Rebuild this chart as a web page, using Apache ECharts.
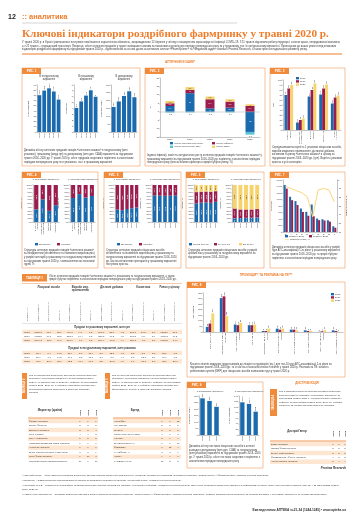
<!DOCTYPE html>
<html><head><meta charset="utf-8">
<script src="https://cdn.jsdelivr.net/npm/echarts@6/dist/echarts.min.js"></script>
<style>html,body{margin:0;padding:0;background:#fff;overflow:hidden}#main{width:360px;height:530px}</style>
</head><body><div id="main"></div>
<script>
// ================= DATA =================
const years5 = ['2016', '2017', '2018', '2019', '2020'];
const years3 = ['2018', '2019', '2020'];

// Fig 1
const fig1Packs = [70.5, 79.3, 83.7, 77.6, 62.1];
const fig1Uah = [4.1, 5.2, 6.2, 7.1, 6.0];
const fig1Usd = [160, 195, 230, 260, 222];

// Fig 2
const fig2Natural = [3.4, 11.0, 2.0, 2.4, -12.0];
const fig2Inflation = [1.6, 2.0, 5.4, 3.6, 3.4];
const fig2Replacement = [1.4, 1.6, 1.6, 1.4, 1.0];
const fig2Structure = [-0.5, -0.4, -0.3, -0.4, -1.6];

// Fig 3
const fig3Cats = ['Лікарські\nзасоби', 'Вироби мед.\nпризначення', 'Дієтичні\nдобавки', 'Косметика', 'Ринок\nу цілому'];
const fig3V2018 = [70, 15, 67, 71, 53];
const fig3V2019 = [83, 20, 80, 83, 65];
const fig3V2020 = [90, 23, 93, 91, 69];

// Fig 4
const fig4Cats = ['Лікарські\nзасоби', 'Вироби мед.\nпризначення', 'Дієтичні\nдобавки', 'Косметика'];
const fig4UahDomestic = [34.2, 61.3, 30.1, 45.4];
const fig4UahForeign = [65.8, 38.7, 69.9, 54.6];
const fig4PackDomestic = [64.8, 75.2, 66.1, 70.3];
const fig4PackForeign = [35.2, 24.8, 33.9, 29.7];

// Fig 5
const fig5UahDomestic = [33.5, 31.9, 35.2, 37.1, 39.4];
const fig5UahForeign = [66.5, 68.1, 64.8, 62.9, 60.6];
const fig5PackDomestic = [72.3, 71.1, 70.8, 71.0, 72.4];
const fig5PackForeign = [27.7, 28.9, 29.2, 29.0, 27.6];

// Fig 6
const fig6UahHigh = [50.3, 52.4, 53.1, 51.8, 54.6];
const fig6UahMid = [30.5, 29.6, 29.3, 30.1, 28.7];
const fig6UahLow = [19.2, 18.0, 17.6, 18.1, 16.7];
const fig6PackHigh = [10.1, 10.8, 11.3, 11.9, 12.6];
const fig6PackMid = [26.4, 23.1, 22.5, 21.9, 22.3];
const fig6PackLow = [63.5, 66.1, 66.2, 66.2, 65.1];

// Fig 7
const fig7Cats = ['N', 'A', 'C', 'R', 'M', 'J', 'G', 'D', 'B', 'L'];
const fig7V2019 = [1445, 1084, 950, 723, 620, 846, 413, 392, 361, 175];
const fig7V2020 = [1334, 979, 832, 617, 500, 486, 365, 354, 319, 131];
const fig7Change = [-7.7, -9.7, -12.4, -14.7, -19.4, -42.6, -11.6, -9.7, -11.6, -25.2];

// Fig 8
const fig8Cats = ['N02 Анальгетики', 'R05 Засоби від кашлю\nта застуди', 'M01 Протизапальні\nзасоби', 'A11 Вітаміни', 'C09 Засоби, що діють\nна РАС', 'J01 Антибактеріальні\nзасоби', 'A02 Антацидні засоби', 'R01 Назальні засоби', 'C10 Гіполіпідемічні\nзасоби', 'N06 Психоаналептики'];
const fig8V2018 = [46, 304, 67, 61, 9, 30, 21, 15, 2, 15];
const fig8V2019 = [76, 320, 61, 61, 9, 21, 21, 9, 6, 9];
const fig8V2020 = [167, 143, 82, 67, 30, 30, 15, 9, 15, 2];

// Fig 9
const fig9Usd = [282, 262, 217];
const fig9Packs = [117.3, 111.7, 83.8];

// Table 1
const t1Groups = ['Лікарські засоби', 'Вироби мед. призначення', 'Дієтичні добавки', 'Косметика', 'Ринок у цілому'];
const t1GroupCols = [3, 3, 3, 3, 2];
const t1SubCols = ['Обсяг продажів', 'Приріст/убуток, %', 'Частка, %'];
const t1Years = ['2018', '2019', '2020'];
const t1Uah = [
  [5305.2, 17.0, 85.6, 466.0, 9.1, 7.5, 268.7, 27.8, 4.3, 162.1, 24.3, 2.6, 6202.0, 17.1],
  [6053.5, 14.1, 85.5, 533.1, 14.4, 7.5, 320.5, 19.3, 4.5, 173.2, 6.8, 2.4, 7080.3, 14.2],
  [5104.2, -15.7, 84.7, 500.6, -6.1, 8.3, 264.4, -17.5, 4.4, 158.3, -8.6, 2.6, 6027.5, -14.9]
];
const t1Pack = [
  [62.4, -0.4, 74.5, 15.4, -5.7, 18.4, 3.6, 12.5, 4.3, 2.3, 2.1, 2.8, 83.7, -1.2],
  [57.6, -7.7, 74.2, 14.6, -5.2, 18.8, 3.4, -5.6, 4.4, 2.0, -13.0, 2.6, 77.6, -7.3],
  [45.7, -20.7, 73.6, 12.2, -16.4, 19.6, 2.5, -26.5, 4.0, 1.7, -15.0, 2.8, 62.1, -20.0]
];

// Table 2
const t2Names = ['Фармак (Україна)', 'Sanofi (Франція)', 'Дарниця (Україна)', 'Teva (Ізраїль)', 'KRKA (Словенія)', 'Київський вітамінний завод (Україна)', 'Артеріум (Україна)', 'Berlin-Chemie/Menarini (Німеччина)', 'Юрія-Фарм (Україна)', 'Reckitt Benckiser (Великобританія)'];
const t2Cols = ['2020', '2019', '2018'];
const t2Rank2020 = [1, 2, 3, 4, 5, 6, 7, 8, 9, 10];
const t2Rank2019 = [1, 3, 2, 4, 5, 6, 7, 8, 10, 9];
const t2Rank2018 = [1, 2, 4, 3, 5, 6, 7, 9, 8, 10];

// Table 3
const t3Names = ['НУРОФЕН', 'КСАРЕЛТО', 'ЛІНЕКС', 'ЦИТРАМОН-ДАРНИЦЯ', 'НО-ШПА', 'ЕНТЕРОЖЕРМІНА', 'ФЛЕБОДІА', 'КАНЕФРОН Н', 'НОТТА', 'КАРДІОМАГНІЛ'];
const t3Rank2020 = [1, 2, 3, 4, 5, 6, 7, 8, 9, 10];
const t3Rank2019 = [1, 5, 3, 6, 9, 7, 12, 8, 4, 2];
const t3Rank2018 = [12, 5, 2, 8, 9, 10, 4, 6, 7, 3];

// Table 4
const t4Names = ['БаДМ (Україна)', 'Оптіма-Фарм (Україна)', 'Вента. ЛТД (Україна)', 'Фармпланета / Фра-М (Україна)', 'Альба Україна (Україна)'];
const t4Rank2020 = [1, 2, 3, 4, 5];
const t4Rank2019 = [1, 2, 3, 5, 4];
const t4Rank2018 = [1, 2, 3, 5, 4];

// ================= STYLE =================
const K = 1;
const k = function (v) { return v * K; };
const FF = 'Arial, "Liberation Sans", Helvetica, sans-serif';
const C = {blue: '#1c6aae', maroon: '#9b1d4e', yellow: '#f6d36b', teal: '#5bc2d4', orange: '#ee7d2b', border: '#f2a870', stripe: '#fde6d2', txt: '#3a3a3a'};

const grid = [], xAxis = [], yAxis = [], series = [], graphic = [];
const mctx = document.createElement('canvas').getContext('2d');
function wrapText(text, font, maxW) {
  mctx.font = font;
  const out = [];
  text.split('\n').forEach(function (para) {
    const words = para.split(' ');
    let line = '';
    words.forEach(function (w) {
      const cand = line ? line + ' ' + w : w;
      if (line && mctx.measureText(cand).width > maxW) { out.push(line); line = w; }
      else line = cand;
    });
    out.push(line);
  });
  return out.join('\n');
}
function T(x, y, text, o = {}) {
  const fs = k(o.fs || 2.6);
  const fam = o.ff || FF;
  const font = (o.it ? 'italic ' : 'normal ') + (o.fw || 'normal') + ' ' + fs + 'px ' + fam;
  const t = o.w ? wrapText(text, font, k(o.w)) : text;
  const st = {text: t, font: font, fontSize: fs, fontFamily: fam, fontWeight: o.fw || 'normal', fontStyle: o.it ? 'italic' : 'normal',
    fill: o.c || C.txt, align: o.align || 'left', verticalAlign: o.va || 'top', lineHeight: k(o.lh || (o.fs || 2.6) * 1.2)};
  graphic.push({type: 'text', x: k(x), y: k(y), rotation: o.rot || 0, z: o.z || 10, silent: true, style: st});
}
function R(x, y, w, h, o = {}) {
  graphic.push({type: 'rect', shape: {x: k(x), y: k(y), width: k(w), height: k(h)}, z: o.z || 1, silent: true,
    style: {fill: o.fill || 'none', stroke: o.stroke || 'none', lineWidth: k(o.lw || 0.6)}});
}
function L(x1, y1, x2, y2, o = {}) {
  graphic.push({type: 'line', shape: {x1: k(x1), y1: k(y1), x2: k(x2), y2: k(y2)}, z: o.z || 2, silent: true,
    style: {stroke: o.c || '#999', lineWidth: k(o.lw || 0.5)}});
}
function figBox(x, y, w, h, label) {
  R(x, y, w, h, {stroke: C.border, lw: 0.7});
  R(x, y, 19, 6, {fill: '#f08b3c', z: 3});
  T(x + 9.5, y + 3.2, label, {fs: 3, c: '#fff', fw: 'bold', align: 'center', va: 'middle', z: 4});
}
function gLegend(items, x, y, o = {}) {
  let cx = x, cy = y;
  items.forEach(function (it, i) {
    if (it[2]) L(cx, cy + 1.2, cx + 4, cy + 1.2, {c: it[0], lw: 0.8, z: 5});
    else R(cx, cy, 3, 2.4, {fill: it[0], z: 5});
    T(cx + (it[2] ? 5 : 4), cy + 1.2, it[1], {fs: o.fs || 2.4, va: 'middle'});
    if (o.vertical) cy += o.step || 3.4;
    else if (o.cols && (i + 1) % o.cols === 0) { cx = x; cy += o.step || 3.6; }
    else cx += o.dx || 20;
  });
}
function yAx(gi, min, max, step, name, gap, pos, fmt) {
  return {gridIndex: gi, type: 'value', min: min, max: max, interval: step, position: pos, name: name, nameLocation: 'middle', nameRotate: 90, nameGap: k(gap || 8),
    nameTextStyle: {fontSize: k(2.5), color: '#333', fontFamily: FF},
    axisLine: {show: true, lineStyle: {color: '#8a8a8a', width: k(0.5)}},
    axisTick: {show: true, length: k(1), lineStyle: {color: '#8a8a8a', width: k(0.4)}},
    splitLine: {show: false},
    axisLabel: {fontSize: k(2.2), color: '#333', margin: k(1), fontFamily: FF, formatter: fmt}};
}
function addPlot(p) {
  const gi = grid.length;
  grid.push({left: k(p.x), top: k(p.y), width: k(p.w), height: k(p.h), containLabel: false});
  const fs = p.fs || 2.2;
  xAxis.push({gridIndex: gi, type: 'category', data: p.cats,
    axisLine: {onZero: false, lineStyle: {color: '#8a8a8a', width: k(0.5)}}, axisTick: {show: false},
    axisLabel: {interval: 0, rotate: p.rot === undefined ? 90 : p.rot, fontSize: k(fs), lineHeight: k(fs + 0.3), color: '#333', margin: k(1), fontFamily: FF}});
  const ax = {xi: xAxis.length - 1};
  yAxis.push(yAx(gi, p.ymin, p.ymax, p.step, p.yname, p.ngap, 'left', p.yfmt));
  ax.yi = yAxis.length - 1;
  if (p.y2) { yAxis.push(yAx(gi, p.y2.min, p.y2.max, p.y2.step, p.y2.name, p.y2.gap, 'right', p.y2.fmt)); ax.yi2 = yAxis.length - 1; }
  return ax;
}
const lblTop = {show: true, position: 'top', rotate: 90, align: 'left', verticalAlign: 'middle', distance: k(0.8), fontSize: k(2.1), color: '#333', fontFamily: FF};
const lblIn = {show: true, position: 'inside', rotate: 90, fontSize: k(2.1), color: '#fff', fontFamily: FF};
function addBar(name, data, ax, color, o = {}) {
  series.push({type: 'bar', name: name, data: data, xAxisIndex: ax.xi, yAxisIndex: o.right ? ax.yi2 : ax.yi,
    stack: o.stack ? o.stack + '_' + ax.xi : undefined,
    barGap: o.gap || '0%', barCategoryGap: o.cgap || '30%', itemStyle: {color: color}, label: o.label || lblTop, markLine: o.markLine});
}
const pct = function (v) { return v + '%'; };

// ================= PAGE HEADER =================
T(8, 12.5, '12', {fs: 7, fw: 'bold', c: '#222'});
T(22, 12.2, ':: аналитика', {fs: 7.5, fw: 'bold', c: C.orange});
L(22, 23, 237, 23, {c: '#aaa', lw: 0.5});
T(22, 27.5, 'Ключові індикатори роздрібного фармринку у травні 2020 р.', {fs: 11.2, fw: 'bold', ff: '"Liberation Serif", "DejaVu Serif", serif', c: C.orange});
T(22, 40, 'У травні 2020 р. в Україні розпочалося поступове пом\'якшення карантинних обмежень, запроваджених 12 березня у зв\'язку з поширенням коронавірусної інфекції COVID-19. З 11 травня відновили роботу перукарні, салони краси, непродовольчі магазини, а з 22 травня – громадський транспорт. Попри це, обсяг аптечних продажів у травні залишався нижчим за показники аналогічного періоду попереднього року як у грошовому, так і в натуральному вираженні. Пропонуємо до вашої уваги огляд ключових індикаторів роздрібного фармринку за підсумками травня 2020 р., підготовлений на основі даних аналітичних систем «PharmXplorer» та «Медичний аудит» компанії Proxima Research, а також прогноз подальшого розвитку ринку.', {fs: 2.7, w: 320, lh: 3.9});
L(22, 54, 342, 54, {c: C.orange, lw: 1});
T(180, 62, 'АПТЕЧНИЙ КОШИК*', {fs: 3, c: C.orange, fw: 'bold', align: 'center', va: 'middle'});

// ================= FIG 1 =================
figBox(22, 68, 118, 98, 'РИС. 1');
T(49, 75, 'В натуральному\nвираженні', {fs: 2.6, align: 'center', lh: 3});
T(86, 75, 'В грошовому\nвираженні', {fs: 2.6, align: 'center', lh: 3});
T(124, 75, 'В доларовому\nвираженні', {fs: 2.6, align: 'center', lh: 3});
let ax = addPlot({x: 37, y: 85, w: 24, h: 47, cats: years5, ymin: 0, ymax: 90, step: 10, yname: 'Млн упаковок', ngap: 7});
addBar('f1a', fig1Packs, ax, C.blue, {cgap: '22%'});
ax = addPlot({x: 74, y: 85, w: 24, h: 47, cats: years5, ymin: 0, ymax: 8, step: 1, yname: 'Млрд грн', ngap: 5});
addBar('f1b', fig1Uah, ax, C.blue, {cgap: '22%'});
ax = addPlot({x: 111, y: 85, w: 26, h: 47, cats: years5, ymin: 0, ymax: 300, step: 50, yname: 'Млн дол. США', ngap: 7});
addBar('f1c', fig1Usd, ax, C.blue, {cgap: '22%'});
T(24, 148.5, 'Динаміка обсягу аптечних продажів товарів «аптечного кошика» в натуральному (млн упаковок), грошовому (млрд грн) та доларовому (млн дол. США) вираженні за підсумками травня 2016–2020 рр. У травні 2020 р. обсяг продажів скоротився порівняно з аналогічним періодом попереднього року як в упаковках, так і в грошовому вираженні', {fs: 2.6, w: 114, lh: 3.8});

// ================= FIG 2 =================
figBox(145, 68, 120, 98, 'РИС. 2');
ax = addPlot({x: 160, y: 78, w: 100, h: 59, cats: years5, rot: 0, fs: 2.4, ymin: -15, ymax: 20, step: 5, yname: '%', ngap: 6});
const lbl2 = {show: true, position: 'inside', fontSize: k(2.1), color: '#fff', fontFamily: FF};
addBar('Індекс натурального росту', fig2Natural, ax, C.blue, {stack: 's2', cgap: '55%', label: lbl2,
  markLine: {silent: true, symbol: 'none', data: [{yAxis: 0}], lineStyle: {color: '#999', width: k(0.4), type: 'solid'}, label: {show: false}}});
addBar('Індекс інфляції', fig2Inflation, ax, C.maroon, {stack: 's2', cgap: '55%', label: lbl2});
addBar('Індекс замін', fig2Replacement, ax, C.yellow, {stack: 's2', cgap: '55%', label: Object.assign({}, lbl2, {color: '#333'})});
addBar('Індекс структурних змін', fig2Structure, ax, C.teal, {stack: 's2', cgap: '55%', label: {show: true, position: 'bottom', fontSize: k(2.1), color: '#333', distance: k(0.8)}});
gLegend([[C.blue, 'Індекс натурального росту'], [C.maroon, 'Індекс інфляції'], [C.teal, 'Індекс структурних змін'], [C.yellow, 'Індекс замін']], 170, 142, {cols: 2, dx: 42, step: 3.6});
T(147, 153.5, 'Індекси інфляції, замін та натурального росту аптечних продажів товарів «аптечного кошика» у грошовому вираженні за підсумками травня 2016–2020 рр. порівняно з аналогічним періодом попереднього року (внесок кожного фактора в приріст/убуток ринку, %)', {fs: 2.6, w: 116, lh: 3.7});

// ================= FIG 3 =================
figBox(270, 68, 75, 98, 'РИС. 3');
ax = addPlot({x: 283, y: 80, w: 58, h: 50, cats: fig3Cats, ymin: 0, ymax: 100, step: 10, yname: 'Грн', ngap: 6});
addBar('2018', fig3V2018, ax, C.blue, {cgap: '25%'});
addBar('2019', fig3V2019, ax, C.maroon, {cgap: '25%'});
addBar('2020', fig3V2020, ax, C.yellow, {cgap: '25%'});
gLegend([[C.blue, '2018'], [C.maroon, '2019'], [C.yellow, '2020']], 296, 77, {vertical: true, step: 3.2});
T(272, 145.5, 'Середньозважена вартість 1 упаковки лікарських засобів, виробів медичного призначення, дієтичних добавок, косметики та ринку «аптечного кошика» в цілому за підсумками травня 2018–2020 рр. (грн). Вартість упаковки зростає в усіх категоріях', {fs: 2.6, w: 71, lh: 3.7});

// ================= FIG 4 =================
figBox(22, 172, 76, 96, 'РИС. 4');
T(46, 177.5, 'У грошовому вираженні', {fs: 2.4, align: 'center'});
T(83, 177.5, 'У натуральному вираженні', {fs: 2.4, align: 'center'});
ax = addPlot({x: 33, y: 185, w: 26, h: 37, cats: fig4Cats, fs: 2, ymin: 0, ymax: 100, step: 10, yname: 'Частка, %', ngap: 6.5, yfmt: pct});
addBar('Вітчизняні', fig4UahDomestic, ax, C.blue, {stack: 'a', cgap: '35%', label: lblIn});
addBar('Іноземні', fig4UahForeign, ax, C.maroon, {stack: 'a', cgap: '35%', label: lblIn});
ax = addPlot({x: 70, y: 185, w: 25, h: 37, cats: fig4Cats, fs: 2, ymin: 0, ymax: 100, step: 10, yname: 'Частка, %', ngap: 6.5, yfmt: pct});
addBar('Вітчизняні', fig4PackDomestic, ax, C.blue, {stack: 'a', cgap: '35%', label: lblIn});
addBar('Іноземні', fig4PackForeign, ax, C.maroon, {stack: 'a', cgap: '35%', label: lblIn});
gLegend([[C.blue, 'Вітчизняні'], [C.maroon, 'Іноземні']], 35, 243, {dx: 22});
T(24, 248, 'Структура аптечних продажів товарів «аптечного кошика» за походженням (вітчизняного та іноземного виробництва) у розрізі категорій у грошовому та натуральному вираженні за підсумками травня 2020 р. з визначенням частки кожної групи, %', {fs: 2.6, w: 72, lh: 3.7});

// ================= FIG 5 =================
figBox(104, 172, 77, 96, 'РИС. 5');
T(127, 177.5, 'У грошовому вираженні', {fs: 2.4, align: 'center'});
T(165, 177.5, 'У натуральному вираженні', {fs: 2.4, align: 'center'});
ax = addPlot({x: 115, y: 185, w: 24, h: 37, cats: years5, ymin: 0, ymax: 100, step: 10, yname: 'Частка, %', ngap: 6.5, yfmt: pct});
addBar('Вітчизняні', fig5UahDomestic, ax, C.blue, {stack: 'a', cgap: '30%', label: lblIn});
addBar('Іноземні', fig5UahForeign, ax, C.maroon, {stack: 'a', cgap: '30%', label: lblIn});
ax = addPlot({x: 152, y: 185, w: 26, h: 37, cats: years5, ymin: 0, ymax: 100, step: 10, yname: 'Частка, %', ngap: 6.5, yfmt: pct});
addBar('Вітчизняні', fig5PackDomestic, ax, C.blue, {stack: 'a', cgap: '30%', label: lblIn});
addBar('Іноземні', fig5PackForeign, ax, C.maroon, {stack: 'a', cgap: '30%', label: lblIn});
gLegend([[C.blue, 'Вітчизняні'], [C.maroon, 'Іноземні']], 117, 243, {dx: 22});
T(106, 248, 'Структура аптечних продажів лікарських засобів вітчизняного та іноземного виробництва у грошовому та натуральному вираженні за підсумками травня 2016–2020 рр. Частка вітчизняних препаратів у грошовому вираженні поступово зростає', {fs: 2.6, w: 73, lh: 3.7});

// ================= FIG 6 =================
figBox(186, 172, 78, 96, 'РИС. 6');
T(206, 177.5, 'У грошовому вираженні', {fs: 2.4, align: 'center'});
T(246, 177.5, 'У натуральному вираженні', {fs: 2.4, align: 'center'});
ax = addPlot({x: 194, y: 185, w: 24, h: 37, cats: years5, ymin: 0, ymax: 100, step: 10, yname: 'Частка, %', ngap: 6.5, yfmt: pct});
addBar('Понад 100 грн', fig6UahHigh, ax, C.blue, {stack: 'a', cgap: '30%', label: lblIn});
addBar('50–100 грн', fig6UahMid, ax, C.maroon, {stack: 'a', cgap: '30%', label: lblIn});
addBar('До 50 грн', fig6UahLow, ax, C.yellow, {stack: 'a', cgap: '30%', label: Object.assign({}, lblIn, {color: '#333'})});
ax = addPlot({x: 232, y: 185, w: 28, h: 37, cats: years5, ymin: 0, ymax: 100, step: 10, yname: 'Частка, %', ngap: 6.5, yfmt: pct});
addBar('Понад 100 грн', fig6PackHigh, ax, C.blue, {stack: 'a', cgap: '30%', label: lblIn});
addBar('50–100 грн', fig6PackMid, ax, C.maroon, {stack: 'a', cgap: '30%', label: lblIn});
addBar('До 50 грн', fig6PackLow, ax, C.yellow, {stack: 'a', cgap: '30%', label: Object.assign({}, lblIn, {color: '#333'})});
gLegend([[C.blue, 'Понад 100 грн'], [C.maroon, '50–100 грн'], [C.yellow, 'До 50 грн']], 189, 243, {dx: 25});
T(188, 248, 'Структура аптечних продажів лікарських засобів у розрізі цінових ніш у грошовому та натуральному вираженні за підсумками травня 2016–2020 рр.', {fs: 2.6, w: 74, lh: 3.7});

// ================= FIG 7 =================
figBox(270, 172, 75, 96, 'РИС. 7');
ax = addPlot({x: 283, y: 180, w: 54, h: 52, cats: fig7Cats, rot: 0, fs: 2.3, ymin: 0, ymax: 1600, step: 200, yname: 'Млн грн', ngap: 7,
  y2: {min: -60, max: 0, step: 10, name: 'Приріст/убуток, %', gap: 6}});
addBar('Травень 2019', fig7V2019, ax, C.blue, {cgap: '25%', label: Object.assign({}, lblTop, {show: false})});
addBar('Травень 2020', fig7V2020, ax, C.maroon, {cgap: '25%', label: Object.assign({}, lblTop, {show: false})});
series.push({type: 'line', name: 'Приріст/убуток, %', data: fig7Change, xAxisIndex: ax.xi, yAxisIndex: ax.yi2, symbol: 'none',
  lineStyle: {color: '#f8d77a', width: k(1)}, itemStyle: {color: '#f8d77a'}, z: 5,
  label: {show: true, position: 'top', rotate: 90, align: 'left', verticalAlign: 'middle', distance: k(1), fontSize: k(2.1), color: '#333'}});
gLegend([[C.blue, 'Травень 2019'], [C.maroon, 'Травень 2020'], ['#f8d77a', 'Приріст/убуток, %', true]], 285, 235, {cols: 2, dx: 24, step: 3.5});
T(272, 245, 'Динаміка аптечних продажів лікарських засобів у розрізі груп АТС-класифікації 1-го рівня у грошовому вираженні за підсумками травня 2019–2020 рр. та приріст/убуток порівняно з аналогічним періодом попереднього року', {fs: 2.6, w: 71, lh: 3.7});

// ================= TABLE 1 =================
R(22, 274, 25, 7.5, {fill: '#f08b3c', z: 3});
T(34.5, 278, 'ТАБЛИЦЯ 1', {fs: 3, c: '#fff', fw: 'bold', align: 'center', va: 'middle', z: 4});
T(49, 274.3, 'Обсяг аптечних продажів товарів «аптечного кошика» в грошовому та натуральному вираженні, а також приріст/убуток порівняно з аналогічним періодом попереднього року за підсумками травня 2018–2020 рр.', {fs: 2.6, w: 133, lh: 3.5});
L(22, 283.5, 182, 283.5, {c: C.border, lw: 0.6});
T(27.5, 321, 'Травень, рік', {fs: 2.4, rot: Math.PI / 2, va: 'middle'});
const colX = function (i) { return 38.25 + i * 10.5; };
let ci = 0;
t1Groups.forEach(function (g, gi) {
  const n = t1GroupCols[gi];
  T(33 + (ci + n / 2) * 10.5, 286, g, {fs: 2.7, fw: 'bold', align: 'center', w: 29, lh: 3});
  for (let j = 0; j < n; j++) {
    T(colX(ci + j), 321, t1SubCols[j], {fs: 2.3, rot: Math.PI / 2, va: 'middle', w: 24, lh: 2.8});
  }
  ci += n;
});
L(22, 323.5, 182, 323.5, {c: '#bbb', lw: 0.4});
function t1Section(y0, title, rows) {
  T(102, y0, title, {fs: 2.7, fw: 'bold', align: 'center'});
  rows.forEach(function (row, r) {
    const y = y0 + 4.5 + r * 4.3;
    if (r % 2 === 0) R(22, y - 0.3, 160, 4.3, {fill: C.stripe, z: 0});
    T(27, y + 1.9, t1Years[r], {fs: 2.5, align: 'center', va: 'middle'});
    row.forEach(function (v, i) { T(colX(i), y + 1.9, v.toFixed(1), {fs: 2.4, align: 'center', va: 'middle'}); });
  });
}
t1Section(325.5, 'Продажі в грошовому вираженні, млн грн', t1Uah);
t1Section(346.5, 'Продажі в натуральному вираженні, млн упаковок', t1Pack);

// ================= TABLES 2, 3 =================
function vTab(x, y, w, h, label) {
  R(x, y, w, h, {fill: '#f08b3c', z: 3});
  T(x + w / 2, y + h / 2, label, {fs: 2.6, c: '#fff', fw: 'bold', align: 'center', va: 'middle', rot: Math.PI / 2, z: 4});
}
function rankTable(x0, x1, headX, head, names, cols, ranks, colXs, yHead, y0) {
  T(headX, yHead, head, {fs: 2.8, fw: 'bold', align: 'center', va: 'middle'});
  cols.forEach(function (c, i) { T(colXs[i], yHead + 5.5, c, {fs: 2.5, fw: 'bold', rot: Math.PI / 2, va: 'middle'}); });
  L(x0, y0 - 1, x1, y0 - 1, {c: C.orange, lw: 0.8});
  names.forEach(function (nm, r) {
    const y = y0 + r * 4.45;
    if (r % 2 === 0) R(x0, y - 0.2, x1 - x0, 4.45, {fill: C.stripe, z: 0});
    T(x0 + 1, y + 2, nm, {fs: 2.4, va: 'middle'});
    ranks.forEach(function (arr, i) { T(colXs[i], y + 2, String(arr[r]), {fs: 2.4, align: 'center', va: 'middle'}); });
  });
}
vTab(22, 373, 5, 26, 'ТАБЛИЦЯ 2');
T(29, 373.5, 'Топ-10 маркетерів лікарських засобів за обсягом аптечних продажів у грошовому вираженні за підсумками травня 2020 р. із зазначенням їх позицій у рейтингу за підсумками травня 2018–2019 рр. У рейтингу враховано продажі всіх препаратів компанії-маркетера в аптечних закладах України', {fs: 2.5, w: 69, lh: 3.5});
rankTable(28, 98, 50, 'Маркетер (країна)', t2Names, t2Cols, [t2Rank2020, t2Rank2019, t2Rank2018], [80, 88, 96], 410, 419);
vTab(105, 373, 5, 26, 'ТАБЛИЦЯ 3');
T(112, 373.5, 'Топ-10 брендів лікарських засобів за обсягом аптечних продажів у грошовому вираженні за підсумками травня 2020 р. із зазначенням їх позицій у рейтингу за підсумками травня 2018–2019 рр. У рейтингу враховано продажі всіх форм випуску бренду в аптечних закладах України', {fs: 2.5, w: 69, lh: 3.5});
rankTable(113, 181, 135, 'Бренд', t3Names, t2Cols, [t3Rank2020, t3Rank2019, t3Rank2018], [162, 170, 178], 410, 419);

// ================= FIG 8 =================
T(266, 275.5, 'ПРОМОЦІЯ** ТА РЕКЛАМА НА ТВ***', {fs: 3, c: C.orange, fw: 'bold', align: 'center', va: 'middle'});
figBox(187, 282, 158, 95, 'РИС. 8');
ax = addPlot({x: 203, y: 293, w: 140, h: 39, cats: fig8Cats, fs: 2.1, ymin: 0, ymax: 350, step: 50, yname: 'Тис. візитів', ngap: 7});
addBar('2018', fig8V2018, ax, C.blue, {cgap: '40%'});
addBar('2019', fig8V2019, ax, C.maroon, {cgap: '40%'});
addBar('2020', fig8V2020, ax, C.yellow, {cgap: '40%'});
gLegend([[C.blue, '2018'], [C.maroon, '2019'], [C.yellow, '2020']], 331, 293, {vertical: true, step: 3.2});
T(190, 362, 'Кількість візитів медичних представників до лікарів та провізорів (тис.) для топ-10 груп АТС-класифікації 2-го рівня за підсумками травня 2018–2020 рр. та їх частка в загальній кількості візитів у травні 2020 р. Реклама на ТВ: кількість рейтингових пунктів (GRP) для лікарських засобів зазначених груп у травні 2020 р.', {fs: 2.6, w: 152, lh: 3.7});

// ================= FIG 9 =================
T(307, 383, 'ДИСТРИБ\'ЮЦІЯ', {fs: 3, c: C.orange, fw: 'bold', align: 'center', va: 'middle'});
figBox(187, 382, 76, 86, 'РИС. 9');
T(210, 389.5, 'У доларовому вираженні', {fs: 2.3, align: 'center'});
T(249, 389.5, 'У натуральному вираженні', {fs: 2.3, align: 'center'});
ax = addPlot({x: 199, y: 396, w: 21, h: 39, cats: years3, ymin: 0, ymax: 300, step: 50, yname: 'Млн дол. США', ngap: 6.5});
addBar('f9a', fig9Usd, ax, C.blue, {cgap: '35%'});
ax = addPlot({x: 239, y: 396, w: 20, h: 39, cats: years3, ymin: 0, ymax: 140, step: 20, yname: 'Млн упаковок', ngap: 6.5});
addBar('f9b', fig9Packs, ax, C.blue, {cgap: '35%'});
T(189, 444.5, 'Динаміка обсягу поставок лікарських засобів в аптечні заклади в доларовому (млн дол. США) та натуральному (млн упаковок) вираженні за підсумками травня 2018–2020 рр. У травні 2020 р. обсяг поставок скоротився порівняно з аналогічним періодом попереднього року', {fs: 2.6, w: 72, lh: 3.7});

// ================= TABLE 4 =================
vTab(270, 389, 7, 27, 'ТАБЛИЦЯ 4');
T(279, 390, 'Топ-5 дистриб\'юторів за обсягом поставок лікарських засобів в аптечні заклади у грошовому вираженні за підсумками травня 2020 р. із зазначенням їх позицій у рейтингу за підсумками травня 2018–2019 рр. Рейтинг складено за цінами закупівлі аптечних закладів', {fs: 2.5, w: 67, lh: 3.5});
rankTable(270, 346, 297, 'Дистриб\'ютор', t4Names, t2Cols, [t4Rank2020, t4Rank2019, t4Rank2018], [333, 339, 345], 431, 442);
T(346, 468.5, 'Proxima Research', {fs: 2.9, fw: 'bold', it: true, align: 'right', va: 'middle', c: '#333'});

// ================= FOOTNOTES / FOOTER =================
T(22, 473.5, '*Аптечний кошик – обсяг аптечних продажів лікарських засобів, виробів медичного призначення, дієтичних добавок та косметики (аналітична система «PharmXplorer»/«Фармстандарт» компанії Proxima Research).', {fs: 2.5, w: 324, lh: 3.3});
T(22, 478.8, '**Промоція – візити медичних представників до лікарів та провізорів (аналітична система «Медичний аудит» компанії Proxima Research).', {fs: 2.5, w: 324, lh: 3.3});
T(22, 484.1, '***Реклама на ТВ – розміщення телевізійної реклами лікарських засобів (аналітична система «Моніторинг реклами» компанії Proxima Research). Дані щодо рекламної активності наведено в рейтингових пунктах (GRP) для цільової аудиторії «Всі 18+» за підсумками травня 2018–2020 рр.', {fs: 2.5, w: 324, lh: 3.3});
T(22, 492.5, '****Дані щодо дистрибуції – поставки лікарських засобів в аптечні заклади (аналітична система «PharmXplorer»/«Фармстандарт» компанії Proxima Research). Рейтинг дистриб\'юторів складено за обсягом поставок у грошовому вираженні за цінами закупівлі аптек.', {fs: 2.5, w: 324, lh: 3.3});
T(346, 510, 'Еженедельник АПТЕКА №21-24 (1244-1245) • www.apteka.ua', {fs: 3.2, fw: 'bold', align: 'right', va: 'middle', c: '#333'});

// ================= CHART =================
const chart = echarts.init(document.getElementById('main'), null, {renderer: 'canvas', width: 360, height: 530});
chart.setOption({
  animation: false,
  backgroundColor: '#fff',
  textStyle: {fontFamily: FF},
  grid: grid, xAxis: xAxis, yAxis: yAxis, series: series,
  graphic: {elements: graphic}
});
</script></body></html>
